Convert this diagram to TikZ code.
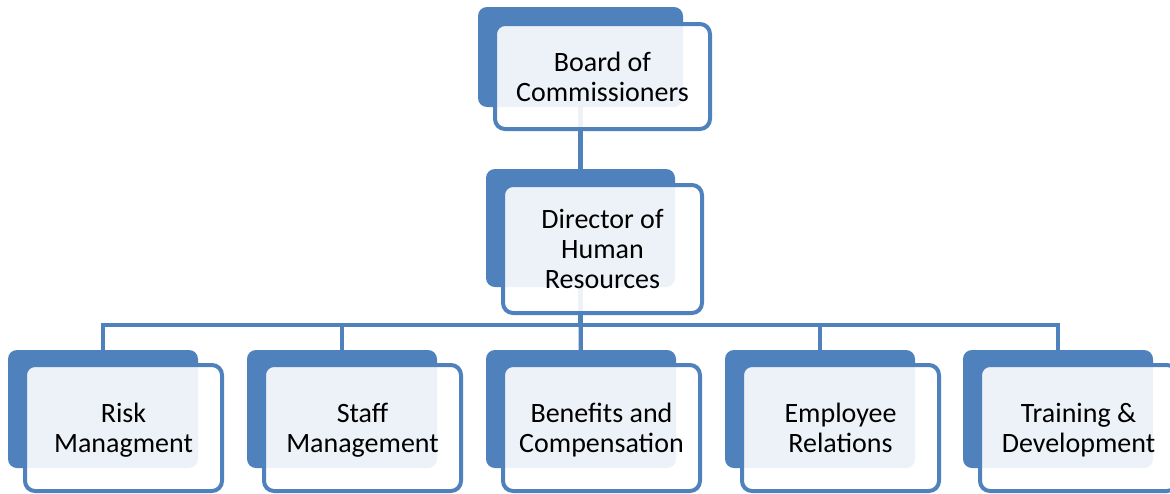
\documentclass[tikz,border=0pt]{standalone}
\usepackage{fontspec}
\setmainfont{Carlito}
\definecolor{accent}{HTML}{4F81BD}
\pgfdeclarelayer{bg}
\pgfsetlayers{bg,main}
\begin{document}
\begin{tikzpicture}[x=1pt,y=-1pt,
  backbox/.style={fill=accent, rounded corners=9pt, anchor=north west, inner sep=0pt, outer sep=0pt},
  frontbox/.style={draw=accent, line width=4pt, fill=white, fill opacity=0.9, text opacity=1,
    rounded corners=10pt, anchor=north west, align=center, inner sep=0pt, outer sep=0pt,
    text depth=0pt, font=\fontsize{28}{30}\selectfont},
  conn/.style={draw=accent, line width=4.2pt}]
\useasboundingbox (0,0) rectangle (1170,493);
\clip (0,0) rectangle (1170,493);
% back boxes
\node[backbox, minimum width=205pt, minimum height=100pt] (tb) at (478,7) {};
\node[backbox, minimum width=189pt, minimum height=118pt] (mb) at (486,169) {};
\node[backbox, minimum width=190pt, minimum height=118pt] (b1) at (8,350) {};
\node[backbox, minimum width=190pt, minimum height=118pt] (b2) at (247,350) {};
\node[backbox, minimum width=190pt, minimum height=118pt] (b3) at (486,350) {};
\node[backbox, minimum width=190pt, minimum height=118pt] (b4) at (725,350) {};
\node[backbox, minimum width=190pt, minimum height=118pt] (b5) at (963,350) {};
% front boxes
\node[frontbox, minimum width=215pt, minimum height=105pt] (tf) at (495,24) {Board of\\Commissioners};
\node[frontbox, minimum width=199pt, minimum height=128pt] (mf) at (503,185) {Director of\\Human\\Resources};
\node[frontbox, minimum width=197pt, minimum height=126pt] (f1) at (25,365) {Risk\\Managment};
\node[frontbox, minimum width=197pt, minimum height=126pt] (f2) at (264,365) {Staff\\Management};
\node[frontbox, minimum width=197pt, minimum height=126pt] (f3) at (503,365) {Benefits and\\Compensation};
\node[frontbox, minimum width=197pt, minimum height=126pt] (f4) at (742,365) {Employee\\Relations};
\node[frontbox, minimum width=197pt, minimum height=126pt] (f5) at (980,365) {Training \&\\Development};
% connectors
\coordinate (bus) at (580,325);
\begin{pgfonlayer}{bg}
\draw[conn] (tb.center) -- (mb.center);
\draw[conn] (mb.center) -- (mb.center |- bus) -| (b1.center);
\draw[conn] (mb.center |- bus) -| (b2.center);
\draw[conn] (mb.center) -- (b3.center);
\draw[conn] (mb.center |- bus) -| (b4.center);
\draw[conn] (mb.center |- bus) -| (b5.center);
\end{pgfonlayer}
\end{tikzpicture}
\end{document}
